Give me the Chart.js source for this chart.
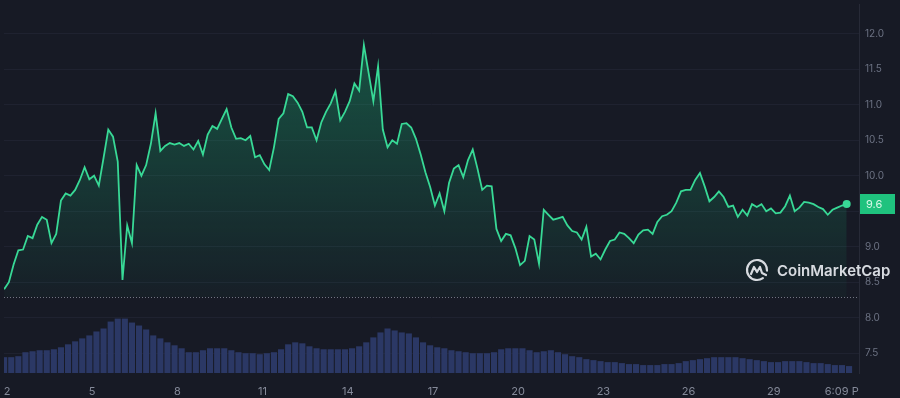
<!DOCTYPE html>
<html>
<head>
  <meta charset="UTF-8" />
  <title>Price chart</title>
  <script src="https://cdn.jsdelivr.net/npm/chart.js"></script>
  <style>
    html, body {
      margin: 0;
      padding: 0;
      background: #171a25;
    }

    #chart {
      display: block;
    }
  </style>
</head>
<body>
  <canvas id="chart" width="900" height="398"></canvas>

  <script>
    // time axis is in days of the month, first sample at ~day 1.9
    const startDay = 1.9;
    const priceStep = 1 / 6;   // 4h samples
    const volumeStep = 1 / 4;  // 6h bars

    const prices = [
      8.40, 8.50, 8.75, 8.95, 8.96, 9.15, 9.12, 9.31, 9.42, 9.38,
      9.05, 9.18, 9.65, 9.75, 9.72, 9.80, 9.94, 10.12, 9.95, 10.00,
      9.86, 10.25, 10.65, 10.55, 10.20, 8.53, 9.30, 9.05, 10.15, 10.00,
      10.15, 10.45, 10.88, 10.35, 10.42, 10.46, 10.44, 10.46, 10.42, 10.45,
      10.37, 10.49, 10.30, 10.58, 10.70, 10.66, 10.80, 10.94, 10.68, 10.52,
      10.53, 10.50, 10.56, 10.26, 10.29, 10.16, 10.08, 10.40, 10.80, 10.88,
      11.15, 11.12, 11.03, 10.90, 10.68, 10.68, 10.50, 10.75, 10.90, 11.02,
      11.19, 10.78, 10.90, 11.05, 11.30, 11.20, 11.84, 11.45, 11.05, 11.54,
      10.65, 10.40, 10.50, 10.45, 10.73, 10.74, 10.68, 10.52, 10.30, 10.05,
      9.84, 9.58, 9.75, 9.50, 9.90, 10.10, 10.15, 9.98, 10.22, 10.37,
      10.10, 9.80, 9.86, 9.85, 9.25, 9.08, 9.18, 9.16, 8.98, 8.74,
      8.80, 9.15, 9.10, 8.76, 9.52, 9.45, 9.38, 9.40, 9.42, 9.30,
      9.22, 9.20, 9.10, 9.28, 8.86, 8.90, 8.82, 8.96, 9.08, 9.10,
      9.20, 9.18, 9.12, 9.05, 9.17, 9.23, 9.24, 9.18, 9.35, 9.43,
      9.45, 9.50, 9.62, 9.78, 9.80, 9.80, 9.94, 10.04, 9.85, 9.64,
      9.70, 9.78, 9.70, 9.56, 9.58, 9.42, 9.52, 9.44, 9.60, 9.56,
      9.60, 9.50, 9.54, 9.47, 9.48, 9.57, 9.72, 9.50, 9.55, 9.63,
      9.62, 9.60, 9.56, 9.53, 9.45, 9.52, 9.55, 9.58, 9.60
    ];

    // volume, relative units (M)
    const volumes = [
      16, 16, 17, 21, 22, 23, 23, 24, 26, 29,
      32, 35, 38, 42, 45, 52, 55, 55, 51, 48,
      44, 38, 35, 31, 28, 25, 21, 21, 23, 25,
      25, 25, 23, 21, 20, 20, 19, 20, 21, 24,
      29, 31, 30, 27, 25, 24, 24, 24, 24, 25,
      27, 31, 36, 41, 45, 43, 41, 40, 36, 31,
      28, 26, 25, 23, 22, 21, 20, 20, 20, 21,
      24, 25, 25, 25, 23, 21, 22, 23, 21, 19,
      17, 16, 14, 13, 12, 11, 11, 10, 9, 9,
      8, 8, 8, 9, 9, 10, 12, 13, 14, 15,
      16, 16, 16, 16, 15, 14, 13, 12, 11, 11,
      12, 12, 12, 11, 10, 10, 9, 8, 8, 7
    ];

    const openPrice = 8.29;
    const priceTicks = [7.5, 8.0, 8.5, 9.0, 9.5, 10.0, 10.5, 11.0, 11.5, 12.0];
    const dayTicks = [2, 5, 8, 11, 14, 17, 20, 23, 26, 29];
    const nowLabel = '6:09 PM';

    const lastDay = startDay + (prices.length - 1) * priceStep;
    const lastPrice = prices[prices.length - 1];

    const GREEN = '#38d996';

    const priceData = prices.map((p, i) => ({ x: startDay + i * priceStep, y: p }));
    const volumeData = volumes.map((v, i) => ({ x: startDay + i * volumeStep, y: v }));

    // keep the last x label from running into the price axis
    const clipXLabels = {
      id: 'clipXLabels',
      afterUpdate(chart) {
        const sc = chart.scales.x;
        if (!sc || sc._clipped) return;
        const orig = sc.drawLabels.bind(sc);
        sc.drawLabels = function (area) {
          const ctx = chart.ctx;
          ctx.save();
          ctx.beginPath();
          ctx.rect(0, 0, chart.chartArea.right, chart.height);
          ctx.clip();
          orig(area);
          ctx.restore();
        };
        sc._clipped = true;
      }
    };

    const openLine = {
      id: 'openLine',
      beforeDatasetsDraw(chart) {
        const { ctx, chartArea } = chart;
        const y = Math.round(chart.scales.y.getPixelForValue(openPrice)) + 0.5;
        ctx.save();
        ctx.strokeStyle = 'rgba(190,195,210,0.55)';
        ctx.lineWidth = 1;
        ctx.setLineDash([1, 2]);
        ctx.beginPath();
        ctx.moveTo(chartArea.left, y);
        ctx.lineTo(chartArea.right, y);
        ctx.stroke();
        ctx.restore();
      }
    };

    const priceTag = {
      id: 'priceTag',
      afterDraw(chart) {
        const { ctx, chartArea } = chart;
        const y = chart.scales.y.getPixelForValue(lastPrice);
        ctx.save();
        ctx.fillStyle = '#1fc27e';
        ctx.fillRect(chartArea.right + 1, Math.round(y) - 10, 35, 20);
        ctx.fillStyle = '#d9f8e8';
        ctx.font = '11px Inter, sans-serif';
        ctx.textAlign = 'left';
        ctx.textBaseline = 'middle';
        ctx.fillText(lastPrice.toFixed(1), chartArea.right + 7, Math.round(y) + 1);
        ctx.restore();
      }
    };

    const watermark = {
      id: 'watermark',
      afterDatasetsDraw(chart) {
        const { ctx, chartArea } = chart;
        const cx = chartArea.right - 102;
        const cy = chartArea.top + 266;
        ctx.save();
        ctx.strokeStyle = 'rgba(232,234,240,0.92)';
        ctx.lineWidth = 2.2;
        ctx.lineCap = 'round';
        ctx.lineJoin = 'round';
        ctx.beginPath();
        ctx.arc(cx, cy, 10, 0.3 * Math.PI, 2.02 * Math.PI);
        ctx.stroke();
        ctx.beginPath();
        ctx.moveTo(cx - 6, cy + 4);
        ctx.lineTo(cx - 3, cy - 3);
        ctx.lineTo(cx, cy + 2);
        ctx.lineTo(cx + 3, cy - 3);
        ctx.lineTo(cx + 5, cy + 3);
        ctx.lineTo(cx + 9, cy + 5);
        ctx.stroke();
        ctx.fillStyle = 'rgba(232,234,240,0.92)';
        ctx.font = '600 15px Inter, sans-serif';
        ctx.textAlign = 'left';
        ctx.textBaseline = 'middle';
        ctx.fillText('CoinMarketCap', chartArea.right - 82, cy + 1);
        ctx.restore();
      }
    };

    new Chart(document.getElementById('chart').getContext('2d'), {
      data: {
        datasets: [
          {
            type: 'line',
            label: 'Price',
            data: priceData,
            yAxisID: 'y',
            order: 1,
            borderColor: GREEN,
            borderWidth: 1.8,
            tension: 0,
            pointRadius: ctx => (ctx.dataIndex === prices.length - 1 ? 4 : 0),
            pointBackgroundColor: GREEN,
            pointBorderWidth: 0,
            fill: { value: openPrice },
            backgroundColor: ctx => {
              const chart = ctx.chart;
              if (!chart.chartArea) return 'transparent';
              const ys = chart.scales.y;
              const g = chart.ctx.createLinearGradient(0, ys.getPixelForValue(12), 0, ys.getPixelForValue(openPrice));
              g.addColorStop(0, 'rgba(26,200,130,0.34)');
              g.addColorStop(1, 'rgba(26,200,130,0.03)');
              return g;
            }
          },
          {
            type: 'bar',
            label: 'Volume',
            data: volumeData,
            yAxisID: 'yv',
            order: 2,
            backgroundColor: '#2b3865',
            barPercentage: 0.86,
            categoryPercentage: 1
          }
        ]
      },
      options: {
        responsive: false,
        devicePixelRatio: 1,
        animation: false,
        layout: { padding: 0 },
        plugins: {
          legend: { display: false },
          tooltip: { enabled: false }
        },
        scales: {
          x: {
            type: 'linear',
            offset: false,
            min: 1.895,
            max: 32.0,
            afterBuildTicks: s => {
              s.ticks = dayTicks.map(v => ({ value: v })).concat([{ value: lastDay }]);
            },
            afterFit: s => {
              s.height = 25;
              s.paddingLeft = 0;
              s.paddingRight = 0;
            },
            grid: { display: false, offset: false },
            border: { display: false },
            ticks: {
              autoSkip: false,
              maxRotation: 0,
              padding: 4,
              color: '#858a99',
              font: { family: 'Inter', size: 11 },
              callback: v => (v === lastDay ? nowLabel : String(v))
            }
          },
          y: {
            position: 'right',
            min: 7.22,
            max: 12.42,
            afterBuildTicks: s => {
              s.ticks = priceTicks.map(v => ({ value: v }));
            },
            afterFit: s => {
              s.width = 41;
              s.paddingTop = 0;
              s.paddingBottom = 0;
            },
            grid: { color: '#1f2230', drawTicks: false },
            border: { color: '#272a37' },
            ticks: {
              padding: 6,
              color: '#6c7283',
              font: { family: 'Inter', size: 10 },
              callback: v => v.toFixed(1)
            }
          },
          yv: {
            display: false,
            min: 0,
            max: 373
          }
        }
      },
      plugins: [clipXLabels, openLine, priceTag, watermark]
    });
  </script>
</body>
</html>
